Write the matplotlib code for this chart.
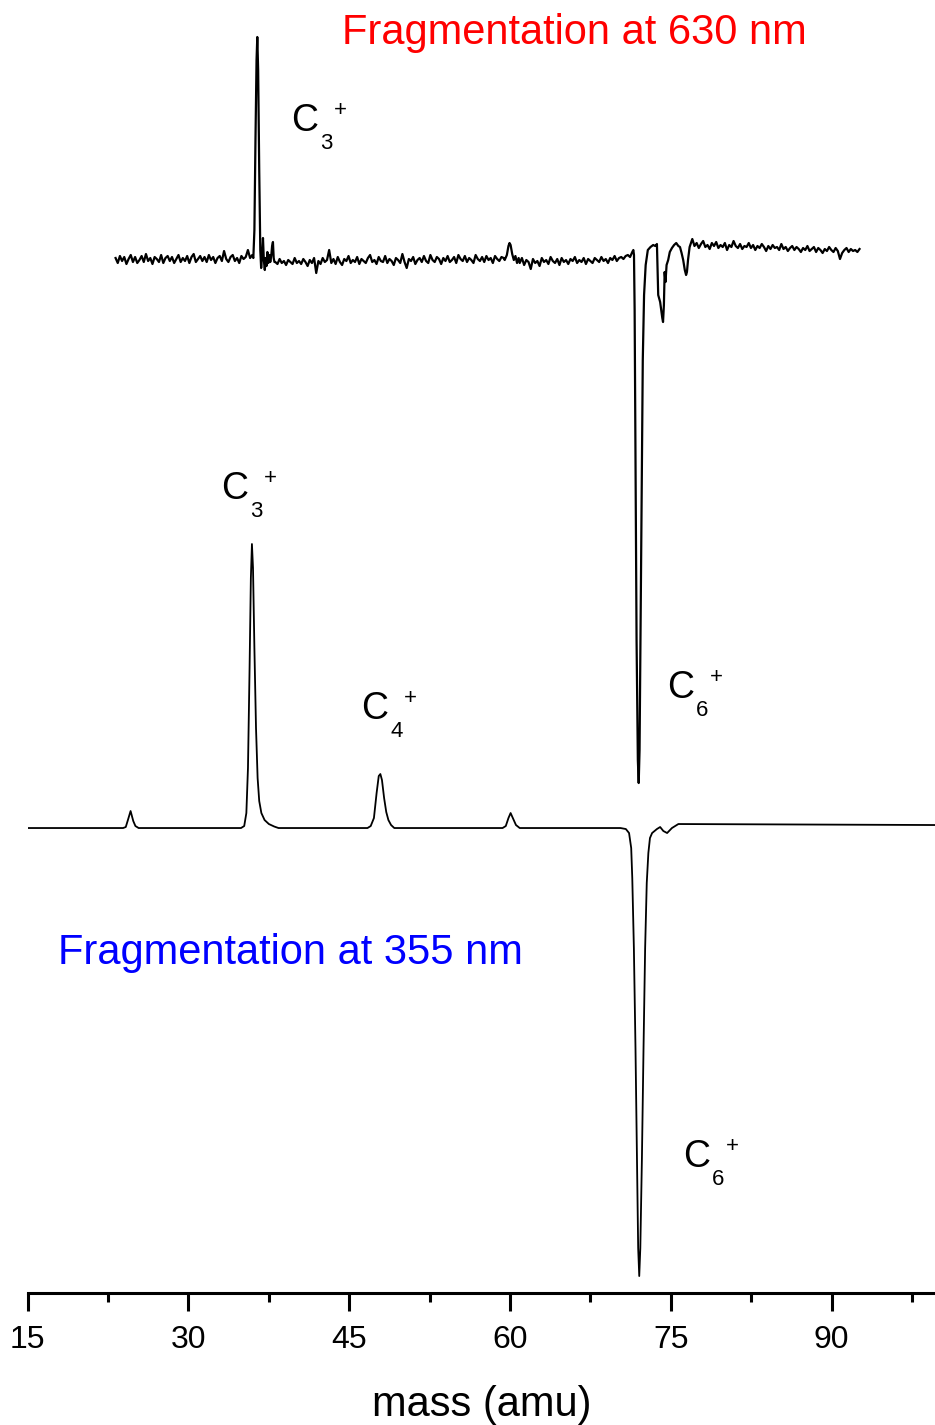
import numpy as np
import matplotlib
matplotlib.use("Agg")
import matplotlib.pyplot as plt

plt.rcParams["font.family"] = ["Liberation Sans", "DejaVu Sans"]

# 355 nm spectrum (lower trace), baseline at 0
LOW_MASS = [15.0, 23.9, 24.15, 24.35, 24.6, 24.85, 25.05, 25.35,
            34.9, 35.2, 35.4, 35.55, 35.7, 35.82, 35.92, 36.02, 36.15, 36.3,
            36.45, 36.6, 36.8, 37.1, 37.5, 38.0, 38.4,
            46.7, 47.0, 47.3, 47.55, 47.75, 47.9, 48.05, 48.25, 48.45, 48.65,
            48.9, 49.2,
            59.3, 59.6, 59.85, 60.05, 60.3, 60.55, 60.9,
            70.3, 70.8, 71.1, 71.3, 71.4, 71.55, 71.7, 71.85, 71.95, 72.05,
            72.15, 72.3, 72.45, 72.6, 72.75, 72.9, 73.05, 73.25, 73.7, 74.0,
            74.3, 74.65, 75.1, 75.7, 99.7]
LOW_SIGNAL = [0.0, 0.0, 0.01, 0.08, 0.17, 0.07, 0.02, 0.0,
              0.0, 0.02, 0.15, 0.6, 1.6, 2.5, 2.84, 2.6, 1.8, 1.0,
              0.5, 0.27, 0.15, 0.08, 0.04, 0.015, 0.0,
              0.0, 0.02, 0.1, 0.35, 0.52, 0.54, 0.48, 0.3, 0.16, 0.08,
              0.03, 0.0,
              0.0, 0.02, 0.1, 0.15, 0.09, 0.03, 0.0,
              0.0, -0.01, -0.05, -0.2, -0.5, -1.2, -2.2, -3.4, -4.2, -4.48,
              -4.2, -3.3, -2.2, -1.2, -0.55, -0.25, -0.1, -0.05, -0.01, 0.01,
              -0.03, -0.05, 0.0, 0.04, 0.03]

# 630 nm spectrum (upper trace), noisy baseline stretches in 0.01 units
UPPER_OFFSET = 5.68
NOISE_A = [2, -3, 4, -1, 3, -4, 1, 5, -2, 3, -3, 0, 4, -2, 6, -1, 2, -4, 3, 1,
           -2, 5, -3, 2, 4, -1, 3, -3, 1, 5, -2, 2, -1, 4, -3, 3, 6, -2, 1, 4,
           -1, 3, -2, 5, 0, 3, -3, 2, 4, -1, 9, 1, -2, 3, 5, -1, 2, -3, 4, 1,
           3, 10, 2, 5]
NOISE_B = [-2, -4, 1, -3, -1, -5, 0, -2, -4, 2, -3, -1, -4, 1, -2, -6, 0, -3,
           2, -13, -1, -4, 2, -2, 0, 10, -3, 1, -4, 3, -2, -5, 1, -1, 4, -3, 0,
           -2, 3, -4, 1, -1, -3, 2, 5, -2, 0, -4, 3, -1, -2, 4, -3, 1, -1, -5,
           2, 0, -3, 6, -2, -8, 1, -1, 3, -4, 0, 2, -2, 4, -1, -3, 5, 0, -2, 3,
           1, -4, 2, -1, 4, -2, 0, 3, -3, 5, 1, -1, 4, -2, 2, 0, -3, 5, 1, -1,
           3, -2, 4, 0, 2, -3, 4, 1, -1, 3, 2]
NOISE_C = [-3, 2, -5, 0, -2, -9, 1, -3, -1, -6, 2, -2, 0, -4, 3, -1, -3, 1,
           -5, 2, -2, 0, -4, 1, -1, 3, -3, 0, -2, 2, -4, 1, -1, -3, 2, 0, -2,
           3, -1, 1, -3, 2, 0, 4, -1, 2, 3, 1, 4, 5, 3, 8]
NOISE_D = [21, 14, 17, 12, 16, 19, 13, 15, 11, 17, 14, 18, 12, 15, 13, 17, 10,
           15, 13, 19, 14, 12, 16, 11, 14, 13, 17, 12, 15, 10, 14, 12, 16, 13,
           9, 14, 11, 15, 12, 13, 10, 16, 11, 13, 9, 12, 14, 10, 13, 11, 8, 12,
           10, 14, 9, 11, 13, 8, 12, 10, 7, 11, 9, 13, 10, 8, 12, 9, 1, 7, 10,
           12, 8, 11, 9, 10, 8, 11]

C3_MASS = [36.05, 36.15, 36.25, 36.35, 36.42, 36.5, 36.6, 36.7, 36.78, 36.87,
           36.95, 37.03, 37.12, 37.2, 37.28, 37.36, 37.45, 37.55, 37.63,
           37.72, 37.8, 37.88, 37.95, 38.02]
C3_SIGNAL = [0.02, 0.3, 1.2, 2.0, 2.23, 1.9, 0.9, 0.1, -0.08, 0.05, 0.22, 0.0,
             -0.1, 0.02, -0.06, 0.08, -0.03, 0.05, -0.02, 0.04, 0.14, 0.18,
             0.02, -0.02]
M60_MASS = [59.5, 59.7, 59.85, 59.95, 60.05, 60.2, 60.35, 60.5, 60.65, 60.8]
M60_SIGNAL = [0.0, 0.05, 0.14, 0.17, 0.15, 0.06, 0.0, 0.04, -0.03, 0.02]
C6_MASS = [71.5, 71.56, 71.62, 71.7, 71.8, 71.92, 72.0, 72.08, 72.18, 72.28,
           72.38, 72.5, 72.65, 72.85, 73.1, 73.35, 73.55, 73.7, 73.76, 73.82,
           73.9, 74.0, 74.1, 74.2, 74.27, 74.35, 74.42, 74.5, 74.6, 74.75,
           74.9, 75.1, 75.3, 75.5, 75.7, 75.85, 76.0, 76.15, 76.3, 76.42,
           76.5, 76.6, 76.75, 76.9]
C6_SIGNAL = [0.1, 0.05, -0.5, -2.0, -3.8, -5.0, -5.23, -4.9, -3.6, -2.2,
             -1.0, -0.35, -0.05, 0.1, 0.13, 0.15, 0.14, 0.16, -0.1, -0.35,
             -0.38, -0.42, -0.5, -0.58, -0.62, -0.45, -0.12, -0.22, -0.05, 0.0,
             0.08, 0.12, 0.15, 0.17, 0.14, 0.13, 0.07, 0.0, -0.1, -0.15,
             -0.12, 0.0, 0.13, 0.18]

TICKS = [15, 30, 45, 60, 75, 90]


def stretch(start, stop, hundredths):
    return np.linspace(start, stop, len(hundredths)), np.array(hundredths) / 100


parts = [stretch(23.2, 35.95, NOISE_A), (C3_MASS, C3_SIGNAL),
         stretch(38.1, 59.4, NOISE_B), (M60_MASS, M60_SIGNAL),
         stretch(60.9, 71.4, NOISE_C), (C6_MASS, C6_SIGNAL),
         stretch(77.0, 92.6, NOISE_D)]
up_mass = np.concatenate([np.asarray(m, float) for m, _ in parts])
up_signal = np.concatenate([np.asarray(s, float) for _, s in parts])

fig = plt.figure(figsize=(9.35, 14.25), dpi=100)
ax = fig.add_axes([0.0296, 0.0926, 0.9704, 0.9074])
ax.plot(LOW_MASS, LOW_SIGNAL, color="black", lw=1.3)
ax.plot(up_mass, up_signal + UPPER_OFFSET, color="black", lw=1.6)
ax.set_xlim(15, 99.64)
ax.set_ylim(-4.65, 8.28)

for side in ("left", "right", "top"):
    ax.spines[side].set_visible(False)
ax.spines["bottom"].set_linewidth(2.2)
ax.set_yticks([])
ax.set_xticks(TICKS)
ax.set_xticks([t + 7.5 for t in TICKS], minor=True)
ax.tick_params(axis="x", which="major", length=13, width=2.2, pad=10,
               labelsize=23)
ax.tick_params(axis="x", which="minor", length=6.5, width=2.2)
ax.set_xlabel("mass (amu)", fontsize=30)
ax.xaxis.set_label_coords(0.5, -0.071)


def ion(x, y, n):
    ax.text(x, y, "C", fontsize=27, ha="left", va="baseline")
    ax.annotate(str(n), (x, y), xytext=(21, -13), textcoords="offset points",
                fontsize=16, ha="left", va="baseline")
    ax.annotate("+", (x, y), xytext=(30.5, 10.5), textcoords="offset points",
                fontsize=16, ha="left", va="baseline")


ion(39.6, 6.97, 3)
ion(33.05, 3.29, 3)
ion(46.1, 1.09, 4)
ion(74.65, 1.30, 6)
ion(76.15, -3.39, 6)

ax.text(44.3, 7.84, "Fragmentation at 630 nm", color="#ff0000",
        fontsize=30, ha="left", va="baseline")
ax.text(17.8, -1.36, "Fragmentation at 355 nm", color="#0000ff",
        fontsize=30, ha="left", va="baseline")

fig.savefig("out.png", dpi=100)
